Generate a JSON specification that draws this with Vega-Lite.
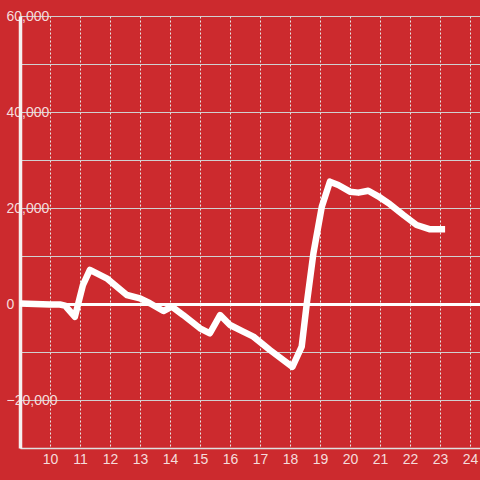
{
  "$schema": "https://vega.github.io/schema/vega-lite/v6.json",
  "width": 460,
  "height": 432,
  "autosize": {"type": "none"},
  "padding": {"left": 20, "top": 16, "right": 0, "bottom": 32},
  "background": "#cc2a2e",
  "config": {
    "view": {"stroke": null},
    "axis": {"labelFont": "Liberation Sans", "labelFontSize": 14, "labelColor": "#f5dcdc", "ticks": false, "title": null}
  },
  "data": {"values": [
    {"x": 9.0, "v": 100},
    {"x": 9.5, "v": 0},
    {"x": 10.0, "v": -100},
    {"x": 10.33, "v": -100},
    {"x": 10.5, "v": -350},
    {"x": 10.83, "v": -2650},
    {"x": 11.1, "v": 4000},
    {"x": 11.33, "v": 7100},
    {"x": 11.89, "v": 5350},
    {"x": 12.56, "v": 1875},
    {"x": 13.0, "v": 1180},
    {"x": 13.33, "v": 150},
    {"x": 13.78, "v": -1460},
    {"x": 14.06, "v": -560},
    {"x": 14.44, "v": -2300},
    {"x": 15.0, "v": -5060},
    {"x": 15.33, "v": -6100},
    {"x": 15.67, "v": -2300},
    {"x": 16.0, "v": -4375},
    {"x": 16.44, "v": -5770},
    {"x": 16.78, "v": -6800},
    {"x": 17.33, "v": -9580},
    {"x": 18.08, "v": -13100},
    {"x": 18.39, "v": -8900},
    {"x": 18.56, "v": 150},
    {"x": 18.78, "v": 10560},
    {"x": 19.06, "v": 20270},
    {"x": 19.33, "v": 25480},
    {"x": 19.61, "v": 24800},
    {"x": 20.0, "v": 23400},
    {"x": 20.28, "v": 23200},
    {"x": 20.61, "v": 23600},
    {"x": 21.0, "v": 22200},
    {"x": 21.33, "v": 20800},
    {"x": 21.78, "v": 18540},
    {"x": 22.22, "v": 16460},
    {"x": 22.67, "v": 15560},
    {"x": 23.17, "v": 15560}
  ]},
  "layer": [
    {
      "mark": {"type": "line", "stroke": "white", "strokeWidth": 6.5, "strokeJoin": "round", "strokeCap": "butt", "clip": false},
      "encoding": {
        "x": {"field": "x", "type": "quantitative",
          "scale": {"domain": [9, 24.3333], "nice": false, "zero": false},
          "axis": {"values": [10,11,12,13,14,15,16,17,18,19,20,21,22,23,24],
            "grid": true, "gridColor": "#e6e6e6", "gridDash": [2, 2], "gridWidth": 1,
            "domainColor": "#e0e0e0", "domainWidth": 1.5, "labelPadding": 4, "labelFlush": false, "labelOverlap": false}},
        "y": {"field": "v", "type": "quantitative",
          "scale": {"domain": [-30000, 60000], "nice": false},
          "axis": {"values": [-30000,-20000,-10000,0,10000,20000,30000,40000,50000,60000],
            "labelExpr": "datum.value % 20000 === 0 ? format(datum.value, ',') : ''",
            "grid": true,
            "gridColor": {"condition": {"test": "datum.value === 0", "value": "#ffffff"}, "value": "#d0d0d0"},
            "gridWidth": {"condition": {"test": "datum.value === 0", "value": 3}, "value": 1},
            "domainColor": "#f5f0f0", "domainWidth": 3.5,
            "labelAlign": "left", "labelPadding": 14, "labelBaseline": "middle", "labelFlush": false, "labelOverlap": false}}
      }
    }
  ]
}
